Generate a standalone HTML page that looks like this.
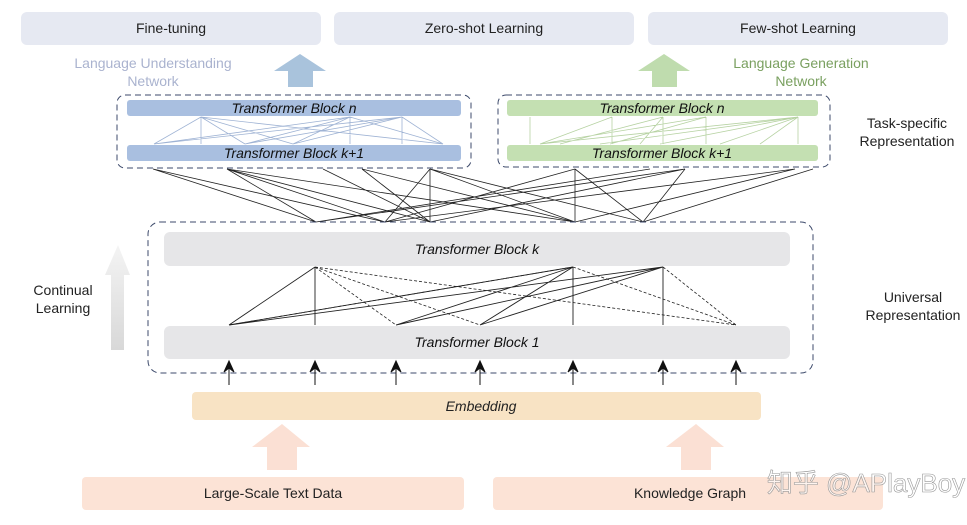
<!DOCTYPE html>
<html><head><meta charset="utf-8"><style>
body{margin:0;background:#fff;}
svg{display:block;font-family:"Liberation Sans","Noto Sans CJK SC",sans-serif;}
</style></head><body>
<svg width="967" height="525" viewBox="0 0 967 525">
<g fill="#e6e9f2">
<rect x="21" y="12" width="300" height="33" rx="6"/>
<rect x="334" y="12" width="300" height="33" rx="6"/>
<rect x="648" y="12" width="300" height="33" rx="6"/>
</g>
<g font-size="14" fill="#222" text-anchor="middle">
<text x="171" y="33">Fine-tuning</text>
<text x="484" y="33">Zero-shot Learning</text>
<text x="798" y="33">Few-shot Learning</text>
</g>
<text x="153" y="68" font-size="14" fill="#aab3cf" text-anchor="middle">Language Understanding</text>
<text x="153" y="86" font-size="14" fill="#aab3cf" text-anchor="middle">Network</text>
<text x="801" y="68" font-size="14" fill="#7aa060" text-anchor="middle">Language Generation</text>
<text x="801" y="86" font-size="14" fill="#7aa060" text-anchor="middle">Network</text>
<polygon points="300,54 326,71 313,71 313,87 288,87 288,71 274,71" fill="#a9c3dc"/>
<polygon points="664,54 690,71 677,71 677,87 652,87 652,71 638,71" fill="#bfdcae"/>
<text x="907" y="128" font-size="14" fill="#222" text-anchor="middle">Task-specific</text>
<text x="907" y="146" font-size="14" fill="#222" text-anchor="middle">Representation</text>
<text x="913" y="302" font-size="14" fill="#222" text-anchor="middle">Universal</text>
<text x="913" y="320" font-size="14" fill="#222" text-anchor="middle">Representation</text>
<text x="63" y="295" font-size="14" fill="#222" text-anchor="middle">Continual</text>
<text x="63" y="313" font-size="14" fill="#222" text-anchor="middle">Learning</text>
<defs><linearGradient id="gg" x1="0" y1="0" x2="0" y2="1"><stop offset="0" stop-color="#f4f4f4"/><stop offset="1" stop-color="#d8d8d8"/></linearGradient></defs>
<polygon points="118,245 130,275 124,275 124,350 111,350 111,275 105,275" fill="url(#gg)"/>
<!-- task boxes -->
<rect x="117" y="95" width="354" height="73" rx="8" fill="none" stroke="#3d4a6b" stroke-dasharray="6,4"/>
<rect x="498" y="95" width="332" height="72" rx="8" fill="none" stroke="#3d4a6b" stroke-dasharray="6,4"/>
<rect x="127" y="100" width="334" height="16" rx="3" fill="#a9bfe0"/>
<rect x="127" y="145" width="334" height="16" rx="3" fill="#a9bfe0"/>
<rect x="507" y="100" width="311" height="16" rx="3" fill="#c4e0b2"/>
<rect x="507" y="145" width="311" height="16" rx="3" fill="#c4e0b2"/>
<g stroke="#9fb3d4" stroke-width="0.8">
<path d="M201,117L154,144M201,117V144M201,117L245,144M201,117L293,144M201,117L443,144M350,117L154,144M350,117L245,144M350,117L293,144M350,117V144M350,117L443,144M402,117L154,144M402,117L245,144M402,117L293,144M402,117V144M402,117L443,144"/>
</g>
<g stroke="#b6d2a2" stroke-width="0.8">
<path d="M530,117V144M612,117V144M663,117V144M706,117V144M798,117V144M798,117L540,144M798,117L600,144M798,117L660,144M798,117L720,144M798,117L760,144M706,117L540,144M663,117L560,144M612,117L540,144M663,117L640,144M706,117L610,144"/>
</g>
<g font-size="14" font-style="italic" fill="#111" text-anchor="middle">
<text x="294" y="113">Transformer Block n</text>
<text x="294" y="158">Transformer Block k+1</text>
<text x="662" y="113">Transformer Block n</text>
<text x="662" y="158">Transformer Block k+1</text>
</g>
<!-- cross connections -->
<g stroke="#222" stroke-width="0.8">
<path d="M153,169L316,222M153,169L385,222M227,169L316,222M227,169L385,222M227,169L430,222M227,169L575,222M323,169L430,222M362,169L430,222M362,169L575,222M430,169L385,222M430,169V222M430,169L575,222M430,169L643,222M575,169L385,222M575,169V222M575,169L643,222M685,169L316,222M685,169L430,222M685,169L643,222M795,169L385,222M795,169L575,222M813,169L643,222M650,169L316,222"/>
</g>
<!-- universal -->
<rect x="148" y="222" width="665" height="151" rx="12" fill="none" stroke="#3d4a6b" stroke-dasharray="6,4"/>
<rect x="164" y="232" width="626" height="34" rx="6" fill="#e6e6e8"/>
<rect x="164" y="326" width="626" height="33" rx="6" fill="#e6e6e8"/>
<text x="477" y="254" font-size="14" font-style="italic" fill="#111" text-anchor="middle">Transformer Block k</text>
<text x="477" y="347" font-size="14" font-style="italic" fill="#111" text-anchor="middle">Transformer Block 1</text>
<g stroke="#222" stroke-width="0.9">
<path d="M315,267L229,325M315,267V325M573,267V325M663,267V325M573,267L396,325M573,267L480,325M663,267L229,325M663,267L396,325M663,267L480,325M573,267L229,325"/>
</g>
<g stroke="#222" stroke-width="0.8" stroke-dasharray="3,2">
<path d="M315,267L396,325M315,267L480,325M315,267L736,325M573,267L229,325M573,267L736,325M663,267L736,325"/>
</g>
<g stroke="#111" stroke-width="1" fill="#111">
<path d="M229,385V364M315,385V364M396,385V364M480,385V364M573,385V364M663,385V364M736,385V364"/>
<path d="M229,361l-5,11l5,-4l5,4zM315,361l-5,11l5,-4l5,4zM396,361l-5,11l5,-4l5,4zM480,361l-5,11l5,-4l5,4zM573,361l-5,11l5,-4l5,4zM663,361l-5,11l5,-4l5,4zM736,361l-5,11l5,-4l5,4z"/>
</g>
<rect x="192" y="392" width="569" height="28" rx="4" fill="#f8e3c4"/>
<text x="481" y="411" font-size="14" font-style="italic" fill="#222" text-anchor="middle">Embedding</text>
<polygon points="282,424 310,447 297,447 297,470 267,470 267,447 252,447" fill="#fbe0d4"/>
<polygon points="696,424 724,447 711,447 711,470 681,470 681,447 666,447" fill="#fbe0d4"/>
<rect x="82" y="477" width="382" height="33" rx="4" fill="#fce3d6"/>
<rect x="493" y="477" width="390" height="33" rx="4" fill="#fce3d6"/>
<text x="273" y="498" font-size="14" fill="#222" text-anchor="middle">Large-Scale Text Data</text>
<text x="690" y="498" font-size="14" fill="#222" text-anchor="middle">Knowledge Graph</text>
<text x="866" y="492" font-size="26" fill="#fff" stroke="#999" stroke-width="0.6" fill-opacity="0.6" text-anchor="middle">知乎 @APlayBoy</text>
</svg>
</body></html>
